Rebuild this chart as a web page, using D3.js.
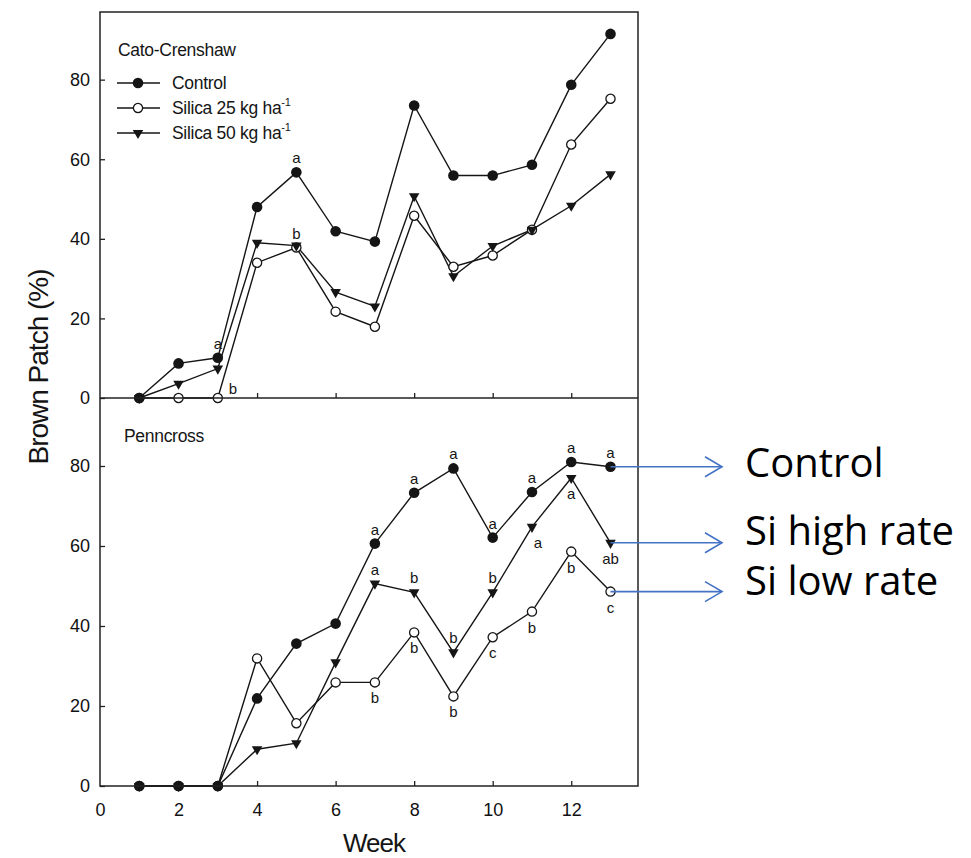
<!DOCTYPE html>
<html>
<head>
<meta charset="utf-8">
<script src="https://cdn.jsdelivr.net/npm/d3@7"></script>
<style>
  body { margin: 0; background: #fff; }
  svg { display: block; }
  .tick text { font-family: 'Liberation Sans', Arial, sans-serif; font-size: 18px; fill: #111; }
  .tick line { stroke: #222; stroke-width: 1.3; }
</style>
</head>
<body>
<div id="chart"></div>
<script>
const weeks = [1, 2, 3, 4, 5, 6, 7, 8, 9, 10, 11, 12, 13];
const xTicks = [0, 2, 4, 6, 8, 10, 12];
const yTicks = [0, 20, 40, 60, 80];

// Cato-Crenshaw (top panel)
const catoControl  = [0, 8.7, 10.1, 48.0, 56.7, 41.9, 39.3, 73.5, 55.9, 55.9, 58.6, 78.7, 91.5];
const catoSilica25 = [0, 0, 0, 34.0, 37.8, 21.7, 17.9, 45.8, 33.0, 35.8, 42.3, 63.7, 75.2];
const catoSilica50 = [0, 3.6, 7.4, 39.0, 38.3, 26.6, 23.0, 50.7, 30.6, 38.2, 42.3, 48.3, 56.2];

// Penncross (bottom panel)
const pennControl  = [0, 0, 0, 21.9, 35.6, 40.6, 60.6, 73.3, 79.4, 62.1, 73.5, 81.0, 79.8];
const pennSilica25 = [0, 0, 0, 31.9, 15.7, 25.9, 25.9, 38.4, 22.4, 37.2, 43.6, 58.6, 48.6];
const pennSilica50 = [0, 0, 0, 9.2, 10.7, 30.9, 50.6, 48.4, 33.4, 48.4, 64.8, 77.0, 60.8];

// mean separation letters: [series, week, letter, placement]
const catoLetters = [
  ['control', 3, 'a', 'above'],
  ['control', 5, 'a', 'above'],
  ['silica25', 3, 'b', 'right'],
  ['silica25', 5, 'b', 'above']
];
const pennLetters = [
  ['control', 7, 'a', 'above'], ['control', 8, 'a', 'above'], ['control', 9, 'a', 'above'],
  ['control', 10, 'a', 'above'], ['control', 11, 'a', 'above'], ['control', 12, 'a', 'above'],
  ['control', 13, 'a', 'above'],
  ['silica50', 7, 'a', 'above'], ['silica50', 8, 'b', 'above'], ['silica50', 9, 'b', 'above'],
  ['silica50', 10, 'b', 'above'], ['silica50', 11, 'a', 'belowRight'], ['silica50', 12, 'a', 'below'],
  ['silica50', 13, 'ab', 'below'],
  ['silica25', 7, 'b', 'below'], ['silica25', 8, 'b', 'below'], ['silica25', 9, 'b', 'below'],
  ['silica25', 10, 'c', 'below'], ['silica25', 11, 'b', 'below'], ['silica25', 12, 'b', 'below'],
  ['silica25', 13, 'c', 'below']
];

const legendLabels = ['Control', 'Silica 25 kg ha', 'Silica 50 kg ha'];
const legendKeys = ['control', 'silica25', 'silica50'];

const calloutLabels = ['Control', 'Si high rate', 'Si low rate'];
const calloutKeys = ['control', 'silica50', 'silica25'];

const width = 971;
const height = 858;
const font = "'Liberation Sans', Arial, sans-serif";
const ink = '#151515';

const svg = d3.select('#chart')
  .append('svg')
    .attr('width', width)
    .attr('height', height);

const x = d3.scaleLinear().domain([0, 13.7]).range([100, 638]);
const yTop = d3.scaleLinear().domain([0, 97]).range([398, 12]);
const yBot = d3.scaleLinear().domain([0, 97]).range([786, 398]);

function marker(sel, key) {
  if (key === 'control') {
    sel.append('circle').attr('r', 5.3).attr('fill', ink);
  } else if (key === 'silica25') {
    sel.append('circle').attr('r', 4.6).attr('fill', '#fff')
      .attr('stroke', ink).attr('stroke-width', 1.3);
  } else {
    sel.append('path')
      .attr('d', d3.symbol().type(d3.symbolTriangle).size(48)())
      .attr('transform', 'rotate(180)')
      .attr('fill', ink);
  }
}

function drawPanel(y, series, letters, title, titleX, titleY, showXLabels) {
  const g = svg.append('g');

  // axes (ticks point inward)
  g.append('g')
    .attr('transform', `translate(${x(0)},0)`)
    .call(d3.axisLeft(y).tickValues(yTicks).tickSizeInner(-5).tickSizeOuter(0).tickPadding(10))
    .call(a => a.select('.domain').remove());

  g.append('g')
    .attr('transform', `translate(0,${y(0)})`)
    .call(d3.axisBottom(x).tickValues(xTicks).tickSizeInner(-5).tickSizeOuter(0).tickPadding(17)
      .tickFormat(showXLabels ? d3.format('d') : ''))
    .call(a => a.select('.domain').remove())
    .call(a => a.selectAll('.tick').filter(d => d === 0).select('line').remove());

  g.append('text')
    .attr('x', x(0) + titleX)
    .attr('y', y(97) + titleY)
    .attr('font-family', font)
    .attr('font-size', 17.5)
    .attr('letter-spacing', -0.3)
    .attr('fill', ink)
    .text(title);

  const line = d3.line()
    .x((d, i) => x(weeks[i]))
    .y(d => y(d));

  const order = ['silica25', 'silica50', 'control'];
  order.forEach(key => {
    g.append('path')
      .datum(series[key])
      .attr('d', line)
      .attr('fill', 'none')
      .attr('stroke', ink)
      .attr('stroke-width', 1.4);
  });

  order.forEach(key => {
    g.append('g')
      .selectAll('g')
      .data(series[key])
      .join('g')
        .attr('transform', (d, i) => `translate(${x(weeks[i])},${y(d)})`)
        .each(function () { marker(d3.select(this), key); });
  });

  const offsets = {
    above: [0, -9],
    below: [0, 21],
    belowRight: [6, 21],
    right: [15, -4]
  };

  g.append('g')
    .selectAll('text')
    .data(letters)
    .join('text')
      .attr('x', d => x(d[1]) + offsets[d[3]][0])
      .attr('y', d => y(series[d[0]][d[1] - 1]) + offsets[d[3]][1])
      .attr('text-anchor', 'middle')
      .attr('font-family', font)
      .attr('font-size', 15)
      .attr('fill', ink)
      .text(d => d[2]);

  return g;
}

const topPanel = drawPanel(yTop,
  { control: catoControl, silica25: catoSilica25, silica50: catoSilica50 },
  catoLetters, 'Cato-Crenshaw', 18, 44, false);
drawPanel(yBot,
  { control: pennControl, silica25: pennSilica25, silica50: pennSilica50 },
  pennLetters, 'Penncross', 24, 44, true);

// frame
svg.append('rect')
  .attr('x', x(0))
  .attr('y', yTop(97))
  .attr('width', x(13.7) - x(0))
  .attr('height', yBot(0) - yTop(97))
  .attr('fill', 'none')
  .attr('stroke', '#222')
  .attr('stroke-width', 1.5);
svg.append('line')
  .attr('x1', x(0)).attr('x2', x(13.7))
  .attr('y1', yTop(0)).attr('y2', yTop(0))
  .attr('stroke', '#222')
  .attr('stroke-width', 1.5);

// legend
const legend = topPanel.append('g')
  .selectAll('g')
  .data(legendKeys)
  .join('g')
    .attr('transform', (d, i) => `translate(${x(0) + 17},${83 + i * 25})`);

legend.append('line')
  .attr('x1', 0).attr('x2', 43)
  .attr('stroke', ink).attr('stroke-width', 1.3);
legend.append('g')
  .attr('transform', 'translate(21,0)')
  .each(function (d) { marker(d3.select(this), d); });
const legendText = legend.append('text')
  .attr('x', 55)
  .attr('y', 6)
  .attr('font-family', font)
  .attr('font-size', 17.5)
  .attr('letter-spacing', -0.3)
  .attr('fill', ink);
legendText.append('tspan').text((d, i) => legendLabels[i]);
legendText.filter(d => d !== 'control')
  .append('tspan')
    .attr('dy', -8)
    .attr('font-size', 11)
    .text('-1');

// axis titles
svg.append('text')
  .attr('transform', `translate(48,367) rotate(-90)`)
  .attr('text-anchor', 'middle')
  .attr('font-family', font)
  .attr('font-size', 28)
  .attr('letter-spacing', -1)
  .attr('fill', ink)
  .text('Brown Patch (%)');

svg.append('text')
  .attr('x', 374)
  .attr('y', 852)
  .attr('text-anchor', 'middle')
  .attr('font-family', font)
  .attr('font-size', 26)
  .attr('letter-spacing', -1)
  .attr('fill', ink)
  .text('Week');

// callouts on the right
const penn = { control: pennControl, silica25: pennSilica25, silica50: pennSilica50 };
const textShift = [10, 2, 3];
const blue = '#4472c4';

calloutKeys.forEach((key, i) => {
  const y0 = yBot(penn[key][12]);
  const x0 = x(13);
  const tip = 722;
  svg.append('line')
    .attr('x1', x0).attr('y1', y0)
    .attr('x2', tip).attr('y2', y0)
    .attr('stroke', blue).attr('stroke-width', 1.6);
  svg.append('path')
    .attr('d', `M${tip - 17},${y0 - 10}L${tip},${y0}L${tip - 17},${y0 + 10}`)
    .attr('fill', 'none')
    .attr('stroke', blue).attr('stroke-width', 1.6);
  svg.append('text')
    .attr('x', 745)
    .attr('y', y0 + textShift[i])
    .attr('font-family', "'Open Sans', sans-serif")
    .attr('font-size', 40)
    .attr('fill', '#000')
    .text(calloutLabels[i]);
});
</script>
</body>
</html>
